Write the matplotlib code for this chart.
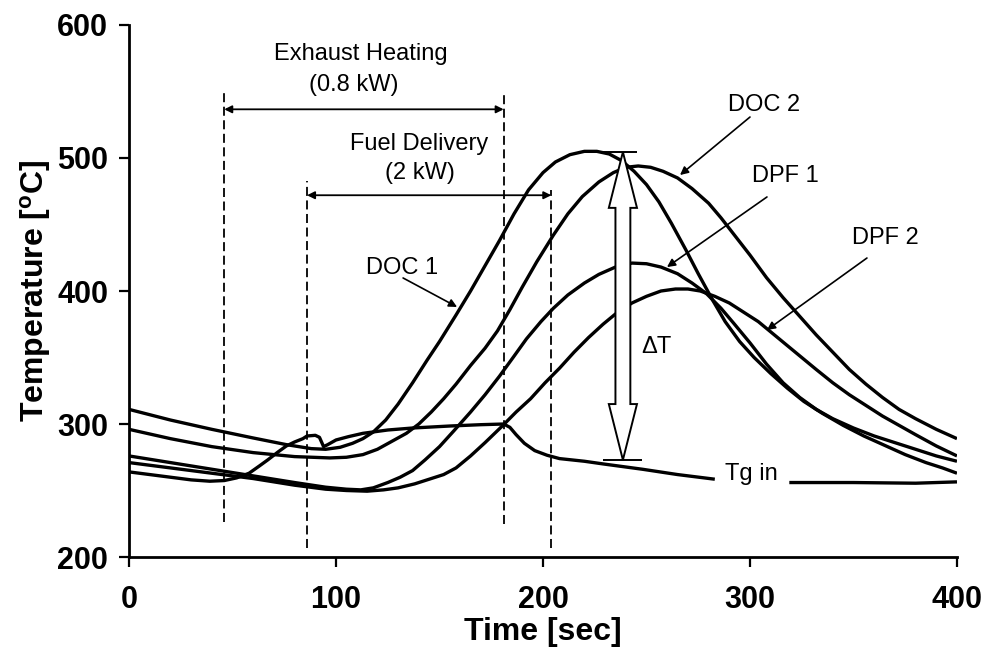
import numpy as np
import matplotlib
matplotlib.use("Agg")
import matplotlib.pyplot as plt
from matplotlib.patches import Polygon

plt.rcParams["font.family"] = ["Liberation Sans", "DejaVu Sans"]

# === DATA ===
doc1_t = [0, 20, 40, 60, 76, 88, 95, 102, 108, 113, 118, 124, 130, 137, 144, 150, 158, 165,
          172, 179, 186, 193, 200, 206, 213, 220, 226, 232, 238, 244, 250, 256, 262, 269,
          275, 282, 288, 295, 302, 310, 318, 326, 335, 345, 355, 365, 375, 385, 393, 400]
doc1_T = [311, 303, 296, 289.5, 284.5, 281.5, 281, 282.5, 285.5, 289, 294, 303, 315, 331, 348, 362, 382, 400,
          419, 438, 458, 476, 489, 497, 502.5, 505, 505, 503, 498, 490, 480, 467, 451, 431,
          413, 393, 377, 362, 350, 338, 327, 317, 308, 299, 291, 284, 277, 271, 267, 263]

doc2_t = [0, 20, 40, 60, 80, 97, 105, 113, 120, 127, 134, 140, 146, 152, 158, 165, 172, 178,
          184, 190, 197, 205, 212, 219, 227, 234, 240, 246, 252, 258, 265, 272, 280, 286,
          292, 300, 308, 316, 324, 332, 340, 348, 356, 364, 372, 380, 390, 400]
doc2_T = [296, 289, 283, 278.5, 275.5, 274.5, 275, 277, 281, 287, 293, 300, 309, 319, 330, 344, 357, 370,
          386, 403, 422, 442, 458, 471, 482, 489, 493, 494, 493, 490, 485, 477, 466, 455,
          443, 427, 410, 395, 381, 367, 354, 341, 330, 320, 311, 304, 296, 289]

dpf1_t = [0, 20, 40, 60, 80, 95, 105, 112, 118, 125, 131, 137, 143, 150, 157, 165, 172, 179,
          186, 192, 199, 205, 212, 220, 227, 235, 243, 250, 257, 265, 272, 279, 286, 292,
          300, 308, 316, 324, 332, 340, 350, 360, 370, 380, 390, 400]
dpf1_T = [276, 271, 266, 261, 256, 252.5, 251, 250.5, 252, 256, 260, 265, 273, 283, 295, 309, 322, 336,
          351, 364, 377, 387, 397, 406, 412.5, 418, 421, 420.5, 418, 413, 406, 398, 387, 376,
          361, 345, 331, 320, 311, 304, 297, 291, 286, 281, 276, 272]

dpf2_t = [0, 20, 40, 60, 80, 95, 105, 115, 123, 130, 138, 145, 152, 158, 165, 172, 180, 187,
          194, 201, 208, 215, 222, 229, 236, 243, 250, 257, 264, 270, 276, 283, 290, 297,
          304, 311, 318, 325, 332, 340, 348, 356, 364, 372, 380, 390, 400]
dpf2_T = [271, 267, 263, 259, 254, 251, 250, 249.5, 250.5, 252, 255, 258.5, 262, 267, 276, 286, 298, 309,
          319, 331, 342, 354, 365, 375, 384, 391, 396, 400, 401.5, 401.5, 400, 396, 391, 384,
          377, 368, 359, 350, 341, 331, 322, 314, 306, 299, 292, 283.5, 276]

tg_t = [0, 15, 30, 39, 46, 52, 58, 63, 67, 72, 76, 80, 84, 86, 90, 92, 94, 96, 100, 106, 113,
        125, 137, 155, 170, 181, 184, 187, 191, 196, 202, 208, 220, 229, 248, 265, 283,
        300, 319, 350, 380, 400]
tg_T = [264, 261, 258, 257, 257.5, 259.5, 263, 268.5, 273, 279, 283.5, 286.5, 289, 291, 291.5, 290, 283,
        284.5, 288, 290.5, 293, 295.5, 297, 298.5, 299.5, 300, 297.5, 292, 285.5, 280, 276.5,
        274, 272, 270, 266, 262, 258.5, np.nan, 256, 256, 255.5, 256.5]

x_ticks = [0, 100, 200, 300, 400]
y_ticks = [200, 300, 400, 500, 600]

# dashed markers: (time, bottom T, top T)
dashed_lines = [(46, 226, 551), (86, 207, 483), (181, 225, 550), (204, 207, 476)]
heat_span = (46, 181, 536.6)
fuel_span = (86, 204, 472)

# delta-T hollow double arrow
dt_x, dt_lo, dt_hi = 238.6, 273, 504.5

# === FIGURE ===
fig = plt.figure(figsize=(9.88, 6.61), dpi=100)
ax = fig.add_axes([0.1306, 0.1573, 0.838, 0.8049])

LW = 2.4
for t, T in [(doc1_t, doc1_T), (doc2_t, doc2_T), (dpf1_t, dpf1_T), (dpf2_t, dpf2_T), (tg_t, tg_T)]:
    ax.plot(t, T, color="black", lw=LW, solid_joinstyle="round", solid_capstyle="butt", zorder=2)

for t, lo, hi in dashed_lines:
    ax.plot([t, t], [lo, hi], color="black", lw=1.3, dashes=[5, 2.5], zorder=1)

for a, b, y in (heat_span, fuel_span):
    ax.annotate("", xy=(b, y), xytext=(a, y),
                arrowprops=dict(arrowstyle="<|-|>", lw=1.3, color="black",
                                mutation_scale=11, shrinkA=0, shrinkB=0))

# hollow double arrow for delta T
sw, hw, hl = 3.6, 6.8, 42
verts = [(dt_x - sw, dt_lo + hl), (dt_x - hw, dt_lo + hl), (dt_x, dt_lo),
         (dt_x + hw, dt_lo + hl), (dt_x + sw, dt_lo + hl), (dt_x + sw, dt_hi - hl),
         (dt_x + hw, dt_hi - hl), (dt_x, dt_hi), (dt_x - hw, dt_hi - hl), (dt_x - sw, dt_hi - hl)]
ax.add_patch(Polygon(verts, closed=True, facecolor="white", edgecolor="black", lw=1.4, zorder=4))
ax.hlines(dt_hi, 227.5, 245.4, color="black", lw=1.4, zorder=4)
ax.hlines(dt_lo, 229, 248, color="black", lw=1.4, zorder=4)

FS = 17
txt = dict(fontsize=FS, ha="center", va="center", zorder=5)
ax.text(112, 578, "Exhaust Heating", **txt)
ax.text(108.7, 555, "(0.8 kW)", **txt)
ax.text(140.1, 510.5, "Fuel Delivery", **txt)
ax.text(140.6, 488.7, "(2 kW)", **txt)
ax.text(132, 417.3, "DOC 1", **txt)
ax.text(307, 540, "DOC 2", **txt)
ax.text(317, 486.5, "DPF 1", **txt)
ax.text(365.2, 439.8, "DPF 2", **txt)
ax.text(255, 357.9, "ΔT", **txt)
ax.text(300.5, 262.4, "Tg in", **txt)

arrow_kw = dict(arrowstyle="-|>", lw=1.2, color="black", mutation_scale=12, shrinkA=0, shrinkB=0)
for start, tip in [((132.4, 409.8), (158.5, 388)),
                   ((300, 530.8), (266.2, 487.2)),
                   ((308.2, 470.7), (259.9, 418)),
                   ((356.5, 424.8), (308.2, 370.7))]:
    ax.annotate("", xy=tip, xytext=start, arrowprops=arrow_kw, zorder=5)

ax.set_xlim(0, 400)
ax.set_ylim(200, 600)
ax.set_xticks(x_ticks)
ax.set_yticks(y_ticks)
for s in ("top", "right"):
    ax.spines[s].set_visible(False)
for s in ("left", "bottom"):
    ax.spines[s].set_linewidth(2)
ax.tick_params(direction="out", length=7, width=1.6, labelsize=22)
ax.tick_params(axis="x", pad=13)
ax.tick_params(axis="y", pad=8)
for lab in ax.get_xticklabels() + ax.get_yticklabels():
    lab.set_fontweight("bold")

ax.set_xlabel("Time [sec]", fontsize=23, fontweight="bold")
ax.set_ylabel("Temperature [$\\mathregular{^{o}}$C]", fontsize=23, fontweight="bold")
ax.xaxis.set_label_coords(0.5, -0.113)
ax.yaxis.set_label_coords(-0.092, 0.5)

fig.savefig("out.png", dpi=100, facecolor="white")
